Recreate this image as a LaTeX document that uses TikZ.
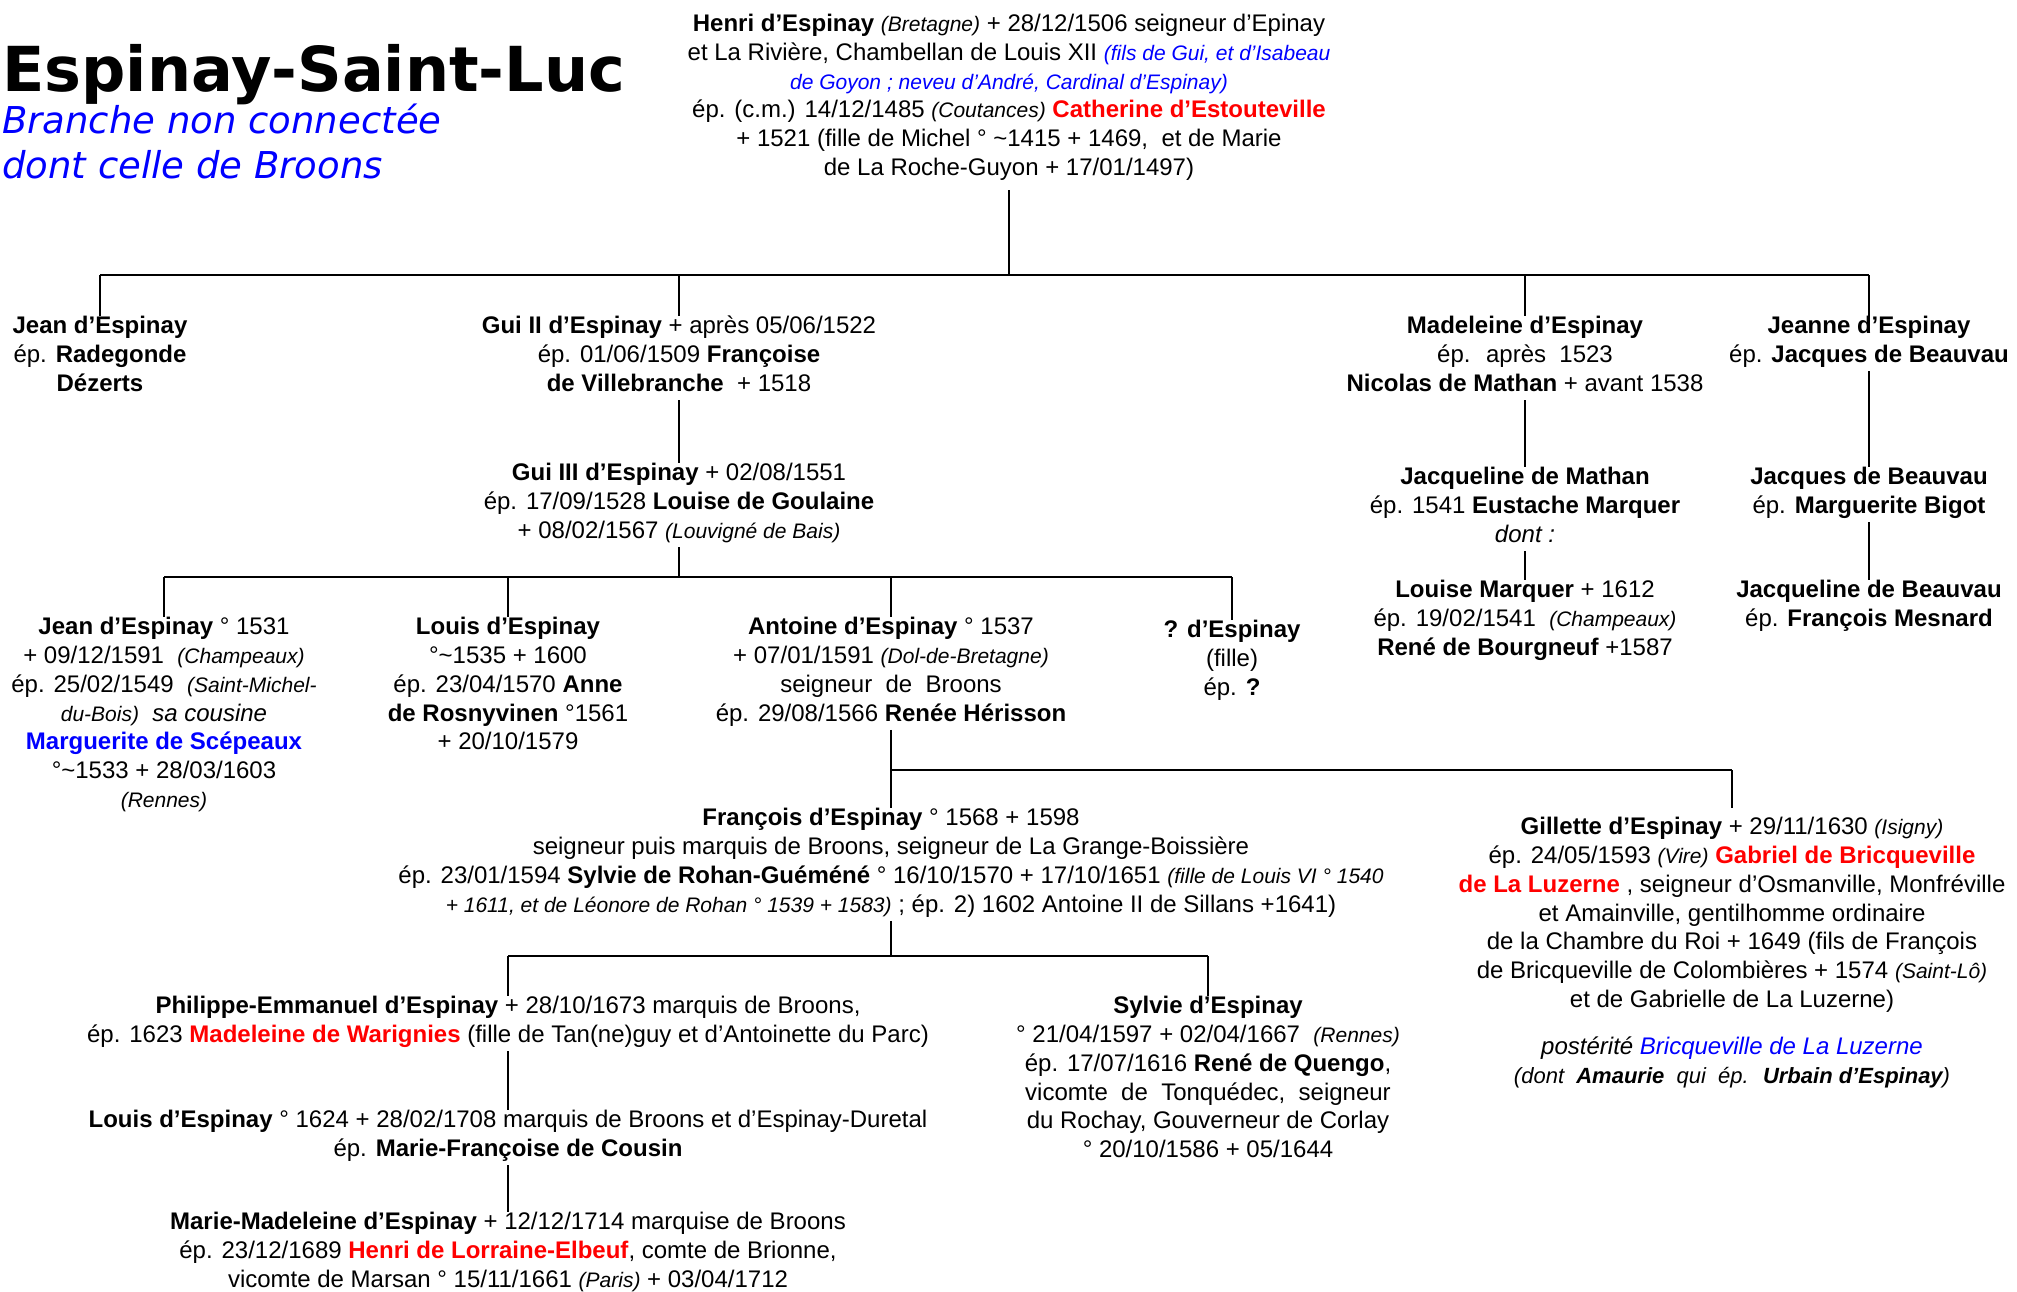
\documentclass[tikz,border=0pt]{standalone}
\usepackage{fontspec}
\setmainfont{Liberation Sans}
\newfontfamily\dvs{DejaVu Sans}
\definecolor{myred}{RGB}{255,0,0}
\definecolor{myblue}{RGB}{0,0,255}
\newcommand\myb[1]{\textbf{#1}}
\newcommand\myi[1]{{\fontsize{21}{28.8}\selectfont\itshape #1}}
\newcommand\myr[1]{\textcolor{myred}{#1}}
\newcommand\myu[1]{\textcolor{myblue}{#1}}
\begin{document}
\begin{tikzpicture}[x=1pt,y=-1pt,
  blk/.style={align=center, inner sep=0pt, anchor=north, font=\fontsize{24}{28.8}\selectfont,
    execute at begin node=\strut, execute at end node=\strut},
  ln/.style={line width=2.2pt}]
\fill[white] (0,0) rectangle (2017,1291);
\useasboundingbox (0,0) rectangle (2017,1291);

% title
\node[anchor=base west, inner sep=0pt, font=\dvs\bfseries\fontsize{62}{70}\selectfont] (title) at (2,91) {Espinay-Saint-Luc};
\node[anchor=base west, inner sep=0pt, text=myblue, font=\dvs\itshape\fontsize{37}{45}\selectfont] (sub1) at (2,133) {Branche non connectée};
\node[anchor=base west, inner sep=0pt, text=myblue, font=\dvs\itshape\fontsize{37}{45}\selectfont] (sub2) at (2,178) {dont celle de Broons};

% generation 0
\node[blk] (henri) at (1009,14) {\myb{Henri d’Espinay} \myi{(Bretagne)} + 28/12/1506 seigneur d’Epinay\\
et La Rivière, Chambellan de Louis XII \myu{\myi{(fils de Gui, et d’Isabeau}}\\
\myu{\myi{de Goyon ; neveu d’André, Cardinal d’Espinay)}}\\
ép. (c.m.) 14/12/1485 \myi{(Coutances)} \myr{\myb{Catherine d’Estouteville}}\\
+ 1521 (fille de Michel ° \textasciitilde1415 + 1469,~ et de Marie\\
de La Roche-Guyon + 17/01/1497)};

% generation 1
\node[blk] (jean1) at (100,316) {\myb{Jean d’Espinay}\\ ép. \myb{Radegonde}\\ \myb{Dézerts}};
\node[blk] (gui2) at (679,316) {\myb{Gui II d’Espinay} + après 05/06/1522\\ ép. 01/06/1509 \myb{Françoise}\\ \myb{de Villebranche}~ + 1518};
\node[blk] (madeleine) at (1525,316) {\myb{Madeleine d’Espinay}\\ ép.~ après~ 1523\\ \myb{Nicolas de Mathan} + avant 1538};
\node[blk] (jeanne) at (1869,316) {\myb{Jeanne d’Espinay}\\ ép. \myb{Jacques de Beauvau}};

% generation 2
\node[blk] (gui3) at (679,463) {\myb{Gui III d’Espinay} + 02/08/1551\\ ép. 17/09/1528 \myb{Louise de Goulaine}\\ + 08/02/1567 \myi{(Louvigné de Bais)}};
\node[blk] (jmathan) at (1525,467) {\myb{Jacqueline de Mathan}\\ ép. 1541 \myb{Eustache Marquer}\\ {\itshape dont :}};
\node[blk] (louise) at (1525,580) {\myb{Louise Marquer} + 1612\\ ép. 19/02/1541~ \myi{(Champeaux)}\\ \myb{René de Bourgneuf} +1587};
\node[blk] (jacques) at (1869,467) {\myb{Jacques de Beauvau}\\ ép. \myb{Marguerite Bigot}};
\node[blk] (jbeauvau) at (1869,580) {\myb{Jacqueline de Beauvau}\\ ép. \myb{François Mesnard}};

% generation 3
\node[blk] (jean2) at (164,617) {\myb{Jean d’Espinay} ° 1531\\ + 09/12/1591~ \myi{(Champeaux)}\\ ép. 25/02/1549~ \myi{(Saint-Michel-}\\ \myi{du-Bois)}~ {\itshape sa cousine}\\ \myu{\myb{Marguerite de Scépeaux}}\\ °\textasciitilde1533 + 28/03/1603\\ \myi{(Rennes)}};
\node[blk] (louis2) at (508,617) {\myb{Louis d’Espinay}\\ °\textasciitilde1535 + 1600\\ ép. 23/04/1570 \myb{Anne}\\ \myb{de Rosnyvinen} °1561\\ + 20/10/1579};
\node[blk] (antoine) at (891,617) {\myb{Antoine d’Espinay} ° 1537\\ + 07/01/1591 \myi{(Dol-de-Bretagne)}\\ seigneur~ de~ Broons\\ ép. 29/08/1566 \myb{Renée Hérisson}};
\node[blk] (qesp) at (1232,620) {\myb{? d’Espinay}\\ (fille)\\ ép. \myb{?}};

% generation 4
\node[blk] (francois) at (891,808) {\myb{François d’Espinay} ° 1568 + 1598\\ seigneur puis marquis de Broons, seigneur de La Grange-Boissière\\ ép. 23/01/1594 \myb{Sylvie de Rohan-Guéméné} ° 16/10/1570 + 17/10/1651 \myi{(fille de Louis VI ° 1540}\\ \myi{+ 1611, et de Léonore de Rohan ° 1539 + 1583)} ; ép. 2) 1602 Antoine II de Sillans +1641)};
\node[blk] (gillette) at (1732,817) {\myb{Gillette d’Espinay} + 29/11/1630 \myi{(Isigny)}\\ ép. 24/05/1593 \myi{(Vire)} \myr{\myb{Gabriel de Bricqueville}}\\ \myr{\myb{de La Luzerne}} , seigneur d’Osmanville, Monfréville\\ et Amainville, gentilhomme ordinaire\\ de la Chambre du Roi + 1649 (fils de François\\ de Bricqueville de Colombières + 1574 \myi{(Saint-Lô)}\\ et de Gabrielle de La Luzerne)};
\node[blk] (poster) at (1732,1037) {{\itshape postérité \myu{Bricqueville de La Luzerne}}\\ {\fontsize{22}{28.8}\selectfont\itshape (dont~ \myb{Amaurie}~ qui~ ép.~ \myb{Urbain d’Espinay})}};

% generation 5
\node[blk] (phil) at (508,996) {\myb{Philippe-Emmanuel d’Espinay} + 28/10/1673 marquis de Broons,\\ ép. 1623 \myr{\myb{Madeleine de Warignies}} (fille de Tan(ne)guy et d’Antoinette du Parc)};
\node[blk] (sylvie) at (1208,996) {\myb{Sylvie d’Espinay}\\ ° 21/04/1597 + 02/04/1667~ \myi{(Rennes)}\\ ép. 17/07/1616 \myb{René de Quengo},\\ vicomte~ de~ Tonquédec,~ seigneur\\ du Rochay, Gouverneur de Corlay\\ ° 20/10/1586 + 05/1644};
\node[blk] (louis3) at (508,1110) {\myb{Louis d’Espinay} ° 1624 + 28/02/1708 marquis de Broons et d’Espinay-Duretal\\ ép. \myb{Marie-Françoise de Cousin}};
\node[blk] (marie) at (508,1212) {\myb{Marie-Madeleine d’Espinay} + 12/12/1714 marquise de Broons\\ ép. 23/12/1689 \myr{\myb{Henri de Lorraine-Elbeuf}}, comte de Brionne,\\ vicomte de Marsan ° 15/11/1661 \myi{(Paris)} + 03/04/1712};

% bus coordinates
\coordinate (bus1) at (0,275);
\coordinate (bus2) at (0,577);
\coordinate (bus3) at (0,770);
\coordinate (bus4) at (0,956);

% connectors
\draw[ln, shorten <=6pt] (henri.south) -- (bus1 -| henri);
\draw[ln] (bus1 -| jean1) -- (bus1 -| jeanne);
\foreach \c in {jean1,gui2,madeleine,jeanne} \draw[ln] (bus1 -| \c) -- (\c.north);
\draw[ln] (gui2.south) -- (gui3.north);
\draw[ln] (madeleine.south) -- (jmathan.north);
\draw[ln] (jmathan.south) -- (louise.north);
\draw[ln] (jeanne.south) -- (jacques.north);
\draw[ln] (jacques.south) -- (jbeauvau.north);
\draw[ln] (gui3.south) -- (bus2 -| gui3);
\draw[ln] (bus2 -| jean2) -- (bus2 -| qesp);
\foreach \c in {jean2,louis2,antoine,qesp} \draw[ln] (bus2 -| \c) -- (\c.north);
\draw[ln] (antoine.south) -- (francois.north);
\draw[ln] (bus3 -| antoine) -- (bus3 -| gillette);
\draw[ln, shorten >=9pt] (bus3 -| gillette) -- (gillette.north);
\draw[ln] (francois.south) -- (bus4 -| francois);
\draw[ln] (bus4 -| phil) -- (bus4 -| sylvie);
\foreach \c in {phil,sylvie} \draw[ln] (bus4 -| \c) -- (\c.north);
\draw[ln] (phil.south) -- (louis3.north);
\draw[ln] (louis3.south) -- (marie.north);
\end{tikzpicture}
\end{document}
